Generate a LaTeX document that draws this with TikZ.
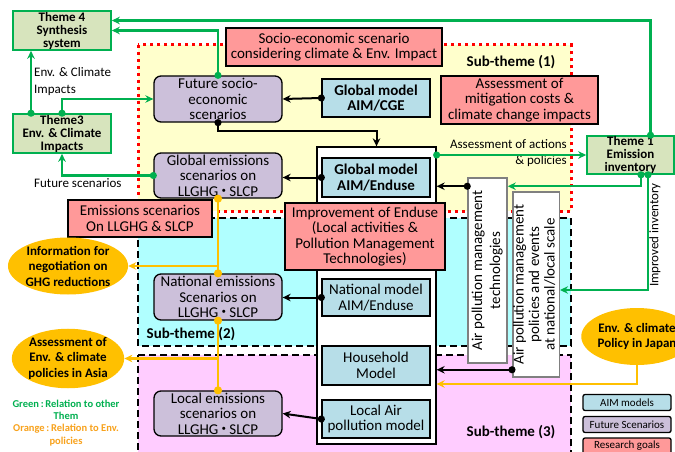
\documentclass[tikz,border=0pt]{standalone}
\usepackage{fontspec}
\setmainfont{Carlito}
\newfontfamily\cjk{Noto Sans CJK JP}
\usetikzlibrary{arrows.meta,shapes.geometric}
\definecolor{grn}{HTML}{00B050}
\definecolor{thm}{HTML}{D7E4BD}
\definecolor{goalc}{HTML}{FF9999}
\definecolor{scenc}{HTML}{CCC0DA}
\definecolor{aimc}{HTML}{B7DEE8}
\definecolor{yel}{HTML}{FFFFCC}
\definecolor{cyn}{HTML}{B0FFFF}
\definecolor{pnk}{HTML}{FFCCFF}
\definecolor{org}{HTML}{FFC000}
\definecolor{org2}{HTML}{F8A21C}
\newcommand{\nk}{\hspace{-2pt}{\cjk ・}\hspace{-2pt}}
\tikzset{
  box/.style={draw,line width=1.3pt,inner sep=0pt,align=center,font=\fontsize{15}{15.5}\selectfont},
  theme/.style={box,draw=grn,fill=thm,line width=1.6pt,font=\bfseries\fontsize{13}{13}\selectfont},
  goal/.style={box,fill=goalc},
  scen/.style={box,fill=scenc,rounded corners=7pt,minimum width=128pt},
  aim/.style={box,fill=aimc,minimum width=108pt},
  aimb/.style={aim,font=\bfseries\fontsize{15}{15.5}\selectfont},
  apbox/.style={box,draw=gray,fill=white,line width=1.5pt},
  oval/.style={ellipse,fill=org,inner sep=0pt,align=center,minimum width=100pt,minimum height=57pt,
    font=\bfseries\fontsize{13}{15.5}\selectfont},
  lbl/.style={inner sep=0pt,font=\fontsize{13}{17}\selectfont},
  sublbl/.style={inner sep=0pt,font=\bfseries\fontsize{15}{15}\selectfont},
  keybox/.style={box,rounded corners=2pt,minimum width=88pt,minimum height=16pt,font=\fontsize{11}{11}\selectfont},
  keytxt/.style={inner sep=0pt,align=center,font=\bfseries\fontsize{10.5}{12.5}\selectfont},
  region/.style={line width=1.5pt,dash pattern=on 7pt off 4pt},
  gline/.style={draw=grn,line width=2.4pt},
  bline/.style={draw=black,line width=2pt},
  oline/.style={draw=org,line width=2.4pt},
  dotarr/.style={arrows={Circle[length=7pt]-Stealth[length=8pt,width=7.5pt]},shorten <=-3.5pt},
  plainarr/.style={arrows={-Stealth[length=8pt,width=7.5pt]}},
  dotdot/.style={arrows={Circle[length=8pt]-Circle[length=8pt]},shorten <=-4pt,shorten >=-4pt}
}
\begin{document}
\begin{tikzpicture}[x=1pt,y=-1pt]
\path[use as bounding box,clip] (0,0) rectangle (675,452);
\fill[white] (0,0) rectangle (675,452);
\draw[fill=yel,draw=red,line width=3pt,dash pattern=on 3pt off 4pt] (138,45) rectangle (571,211);
\draw[region,fill=cyn] (138,218) rectangle (571,346);
\draw[region,fill=pnk] (138,355) rectangle (571,470);

\node[theme,minimum width=98pt,minimum height=39pt] (th4) at (62,30.5) {Theme 4\\Synthesis\\system};
\node[theme,minimum width=98pt,minimum height=39pt] (th3) at (62,133.5) {Theme3\\Env. \& Climate\\Impacts};
\node[theme,minimum width=87pt,minimum height=38pt] (th1) at (630.5,155) {Theme 1\\Emission\\inventory};
\node[lbl,anchor=west,align=left] (lblenv) at (34,81.5) {Env. \& Climate\\Impacts};
\node[lbl,anchor=west] (lblfs) at (34,183) {Future scenarios};

\node[goal,minimum width=216pt,minimum height=38pt] (soc) at (334,47) {Socio-economic scenario\\considering climate \& Env. Impact};
\node[sublbl] (st1) at (511,62) {Sub-theme (1)};
\node[goal,minimum width=157pt,minimum height=48pt] (mit) at (519.5,100) {Assessment of\\mitigation costs \&\\climate change impacts};
\node[scen,minimum height=46pt] (fut) at (218,99) {Future socio-\\economic\\scenarios};
\node[aimb,minimum height=38pt] (cge) at (376,98) {Global model\\AIM/CGE};
\node[scen,minimum height=45pt] (gem) at (218,175.5) {Global emissions\\scenarios on\\LLGHG\nk SLCP};

\node[draw,line width=1.3pt,fill=white,minimum width=119pt,minimum height=297pt] (encl) at (376.5,295.5) {};
\node[aimb,minimum height=39pt] (glend) at (376,177.5) {Global model\\AIM/Enduse};
\node[goal,minimum width=160pt,minimum height=67pt] (imp) at (365,236.5) {Improvement of Enduse\\(Local activities \&\\Pollution Management\\Technologies)};
\node[aim,minimum height=37pt] (nat) at (376,297.5) {National model\\AIM/Enduse};
\node[aim,minimum height=39pt] (hh) at (376,365.5) {Household\\Model};
\node[aim,minimum height=38pt] (lap) at (376,419) {Local Air\\pollution model};

\node[scen,minimum height=46pt] (nem) at (218,297) {National emissions\\Scenarios on\\LLGHG\nk SLCP};
\node[scen,minimum height=45pt] (lem) at (218,413.5) {Local emissions\\scenarios on\\LLGHG\nk SLCP};
\node[sublbl] (st2) at (191,334) {Sub-theme (2)};
\node[sublbl] (st3) at (511,432) {Sub-theme (3)};
\node[goal,minimum width=144pt,minimum height=37pt] (ems) at (140,218.5) {Emissions scenarios\\On LLGHG \& SLCP};

\node[oval] (neg) at (68,266) {Information for\\negotiation on\\GHG reductions};
\node[oval] (asia) at (68,358.5) {Assessment of\\Env. \& climate\\policies in Asia};
\node[oval] (jap) at (637,336.5) {Env. \& climate\\Policy in Japan};

\node[apbox,minimum width=39pt,minimum height=185pt] (apt) at (487.5,270.5)
  {\rotatebox{90}{\fontsize{15}{18}\selectfont\begin{tabular}{@{}c@{}}Air pollution management\\technologies\end{tabular}}};
\node[apbox,minimum width=44pt,minimum height=185pt] (app) at (536,284.5)
  {\rotatebox{90}{\fontsize{15}{15.5}\selectfont\begin{tabular}{@{}c@{}}Air pollution management\\policies and events\\at national/local scale\end{tabular}}};
\node[lbl,rotate=90] (lblinv) at (655,235) {Improved inventory};
\node[lbl,align=right,anchor=east,font=\fontsize{13}{16}\selectfont] (lblact) at (567,153) {Assessment of actions\\\& policies};

\node[keytxt,text=grn] (keyg) at (66,410) {Green\,:\,Relation to other\\Them};
\node[keytxt,text=org2] (keyo) at (66,435) {Orange\,:\,Relation to Env.\\policies};
\node[keybox,fill=aimc] (kaim) at (627,402.5) {AIM models};
\node[keybox,fill=scenc] (kfut) at (627,424.5) {Future Scenarios};
\node[keybox,fill=goalc] (kres) at (627,446) {Research goals};

\coordinate (aptg) at ([yshift=-9pt]apt.north east);
\coordinate (aptb) at ([yshift=-9pt]apt.north west);
\coordinate (appg) at ([yshift=-5.5pt]app.east);
\coordinate (appb) at ([yshift=8pt]app.south west);
\coordinate (japin) at ([yshift=-88.5pt]encl.east);

\draw[gline,dotarr] ([xshift=20pt]th1.north) |- ([yshift=10pt]th4.east);
\draw[gline,dotarr] (fut.north) |- (th4.east);
\draw[gline,dotarr] ([xshift=-31pt]th3.north) -- ([xshift=-31pt]th4.south);
\draw[gline,dotarr] (th3.north) |- (fut.west);
\draw[gline,dotarr] (gem.west) -| (th3.south);
\draw[gline,dotarr] (encl.east |- th1.west) -- (th1.west);
\draw[gline,dotarr] ([xshift=10.5pt]th1.south) |- (aptg);
\draw[gline,dotarr] ([xshift=17.5pt]th1.south) |- (appg);

\draw[bline,dotarr] (cge.west) -- (fut.east);
\draw[bline,dotarr] (fut.south) -- ++(0,8) -| (encl.north);
\draw[bline,dotarr] (glend.west) -- (glend.west -| gem.east);
\draw[bline,dotarr] (aptb) -- (aptb -| encl.east);
\draw[bline,dotarr] (nat.west) -- (nat.west -| nem.east);
\draw[bline,dotarr] (appb) -- (appb -| encl.east);
\draw[bline,dotarr] (lap.west) -- (lem.east);

\draw[oline,dotdot] (gem.south) -- (nem.north);
\draw[oline,plainarr] (gem.south |- neg.east) -- (neg.east);
\draw[oline,dotdot] (nem.south) -- (lem.north);
\draw[oline,plainarr] (nem.south |- asia.east) -- (asia.east);
\draw[oline,plainarr] (jap.south) |- (japin);
\end{tikzpicture}
\end{document}
